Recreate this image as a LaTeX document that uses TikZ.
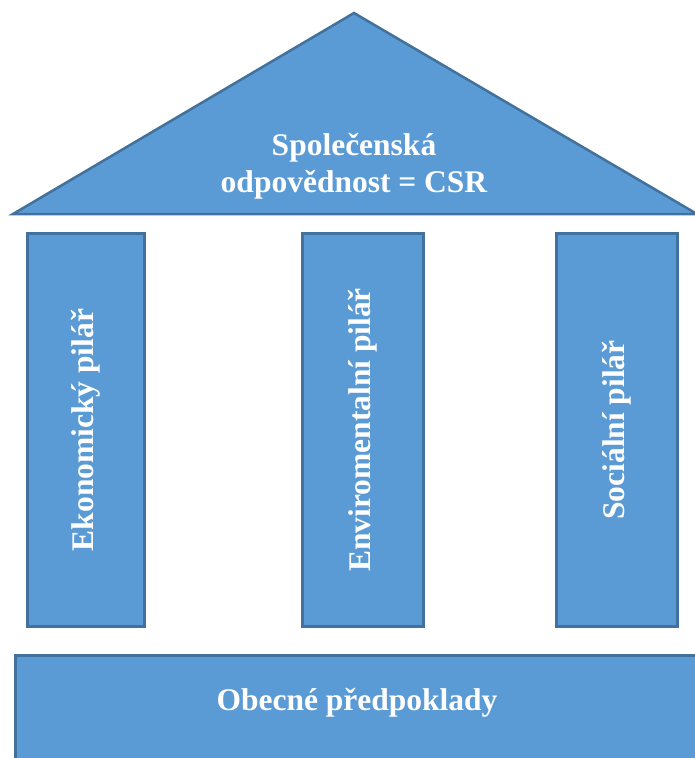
\documentclass[tikz,border=0pt]{standalone}
\usepackage{fontspec}
\setmainfont{Liberation Serif}
\usetikzlibrary{positioning}
\definecolor{csrblue}{RGB}{91, 155, 213}
\definecolor{csrline}{RGB}{65, 113, 156}

\begin{document}
\begin{tikzpicture}[
    x=1pt, y=-1pt,
    part/.style={rectangle, draw=csrline, fill=csrblue, line width=2.5pt, inner sep=0pt, text=white, font=\fontsize{31.5}{37}\selectfont\bfseries, align=center},
    pillar/.style={part, minimum width=120pt, minimum height=393pt}
  ]
    \useasboundingbox (0, 0) rectangle (695, 758);

    % roof
    \coordinate (apex)  at (354, 13);
    \coordinate (roofl) at (13, 214);
    \coordinate (roofr) at (697, 214);
    \draw[draw=csrline, fill=csrblue, line width=2.5pt, line join=miter] (roofl) -- (apex) -- (roofr) -- cycle;
    \node[text=white, font=\fontsize{31.5}{37}\selectfont\bfseries, align=center] at (354, 166) (roof) {Společenská\\odpovědnost = CSR};

    % pillars
    \node[pillar, minimum width=117pt] at (86, 430)  (econ) {\rotatebox{90}{Ekonomický pilář}};
    \node[pillar, minimum width=121pt] at (363, 430) (envi) {\rotatebox{90}{Enviromentalní pilář}};
    \node[pillar, minimum width=121pt] at (617, 430) (soc)  {\rotatebox{90}{Sociální pilář}};

    % base
    \node[part, minimum width=690pt, minimum height=120pt, anchor=north west] at (14, 654) (base) {};
    \node[text=white, font=\fontsize{31.5}{37}\selectfont\bfseries] at (357, 703) (basetxt) {Obecné předpoklady};
  \end{tikzpicture}
\end{document}
